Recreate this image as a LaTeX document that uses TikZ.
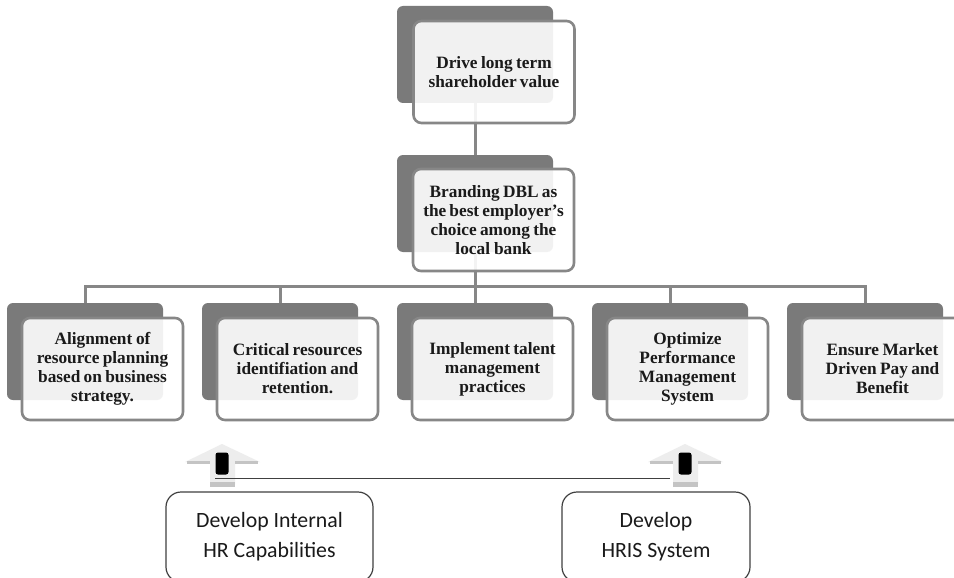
\documentclass[tikz,border=0pt]{standalone}
\usepackage{fontspec}
\setmainfont{Liberation Serif}
\newfontfamily\calib{Carlito}
\definecolor{darkg}{HTML}{7A7A7A}
\definecolor{frameg}{HTML}{878787}
\definecolor{edgeg}{HTML}{404040}
\definecolor{arrowfill}{HTML}{EDEDED}
\definecolor{arrowshade}{HTML}{C4C4C4}
\definecolor{txt}{HTML}{1A1A1A}
\begin{document}
\begin{tikzpicture}[x=1pt,y=-1pt,
  backbox/.style={fill=darkg, rounded corners=6pt, minimum width=156pt, minimum height=97pt, inner sep=0pt},
  frontbox/.style={fill=white, fill opacity=0.9, text opacity=1, draw=frameg, line width=2.6pt,
    rounded corners=8pt, minimum width=161pt, minimum height=102pt, inner sep=0pt,
    align=center, text width=156pt, text=txt,
    font=\bfseries\fontsize{17.3}{19}\selectfont,
    execute at begin node={\spaceskip=0.17em plus 0.05em\relax}},
  link/.style={draw=frameg, line width=3pt},
  basebox/.style={draw=edgeg, line width=1.2pt, rounded corners=15pt, minimum width=207pt,
    minimum height=90pt, inner sep=0pt, fill=white, align=center, text=txt,
    font=\calib\fontsize{21.8}{30}\selectfont},
  marker/.style={fill=black, rounded corners=2.5pt, minimum width=13pt, minimum height=22pt, inner sep=0pt},
  baseline/.style={draw=edgeg, line width=1.3pt},
]
\useasboundingbox (0,0) rectangle (954,578);
\fill[white] (0,0) rectangle (954,578);

% back boxes
\node[backbox] (topB) at (475,54.5) {};
\node[backbox] (brB) at (475,203.5) {};
\foreach \i/\x in {1/85,2/280,3/475,4/670,5/865}
  \node[backbox] (b\i B) at (\x,351.5) {};

% connectors
\draw[link] (topB.south) -- (brB.north);
\foreach \i in {1,...,5}
  \draw[link] (brB.south) -- ++(0,34) -| (b\i B.north);

% front boxes
\node[frontbox] (topF) at (494,72) {Drive long term\\shareholder value};
\node[frontbox] (brF) at (493.5,220) {Branding DBL as\\the best employer's\\choice among the\\local bank};
\node[frontbox] (b1F) at (102.5,369) {Alignment of\\resource planning\\based on business\\strategy.};
\node[frontbox] (b2F) at (297.5,369) {Critical resources\\identifiation and\\retention.};
\node[frontbox] (b3F) at (492.5,369) {Implement talent\\management\\practices};
\node[frontbox] (b4F) at (687.5,369) {Optimize\\Performance\\Management\\System};
\node[frontbox] (b5F) at (882.5,369) {Ensure Market\\Driven Pay and\\Benefit};

% up arrows
\foreach \x in {222,685}{
  \fill[arrowfill] (\x-37,462) -- (\x,444) -- (\x+38,462) -- (\x+13,462) -- (\x+13,484) -- (\x-12,484) -- (\x-12,462) -- cycle;
  \fill[arrowshade] (\x-35,461) rectangle (\x-12,464);
  \fill[arrowshade] (\x+13,461) rectangle (\x+36,464);
  \fill[arrowshade] (\x-12,482) rectangle (\x+13,486.5);
}
\node[marker] (mk1) at (222,463.5) {};
\node[marker] (mk2) at (685,463.5) {};
\draw[baseline] ([yshift=-4pt]mk1.south west) -- ([xshift=-8pt,yshift=-4pt]mk2.south west);

% base boxes
\node[basebox] (hr) at (269.5,537) {Develop Internal\\HR Capabilities};
\node[basebox, minimum width=188pt] (hris) at (656,537) {Develop\\HRIS System};
\end{tikzpicture}
\end{document}
